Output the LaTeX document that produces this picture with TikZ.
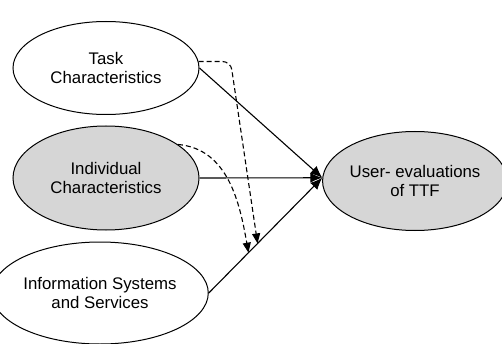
\documentclass[tikz,border=0pt]{standalone}
\usepackage{fontspec}
\setmainfont{Liberation Sans}
\usetikzlibrary{shapes.geometric,arrows.meta,calc}

\begin{document}
\begin{tikzpicture}[x=1pt,y=1pt]
        \tikzstyle{every node}=[ellipse,draw,line width=1pt,inner sep=0pt,align=center,font=\fontsize{16.8}{18.5}\selectfont]
        \tikzstyle{shaded}=[fill=black!16]
        \tikzstyle{link}=[line width=1.1pt,-{Latex[length=12pt,width=10pt]}]
        \tikzstyle{moderate}=[line width=1.1pt,dash pattern=on 5pt off 3pt,-{Triangle[length=10pt,width=8pt]}]
        \useasboundingbox (0,0) rectangle (502,343);
        \node[minimum width=186pt,minimum height=93pt] (task) at (106,275) {Task\\Characteristics};
        \node[shaded,minimum width=186pt,minimum height=104pt] (indiv) at (106,165) {Individual\\Characteristics};
        \node[minimum width=195pt,minimum height=102pt] (infosys) at (100,50) {Information Systems\\and Services};
        \node[shaded,minimum width=170pt,minimum height=99pt] (ttf) at (415,162) {User- evaluations\\of TTF};
        \draw[link] (task.east) -- (ttf.178);
        \draw[link] (indiv.east) -- (ttf.178);
        \draw[link] (infosys.east) -- (ttf.178);
        \draw[moderate,rounded corners=8pt] (task.4) -- ++(32,0) -- ($(infosys.east)!0.43!(ttf.178)$);
        \draw[moderate] (indiv.25) to[out=-5,in=100] ($(infosys.east)!0.35!(ttf.178)$);
\end{tikzpicture}
\end{document}
